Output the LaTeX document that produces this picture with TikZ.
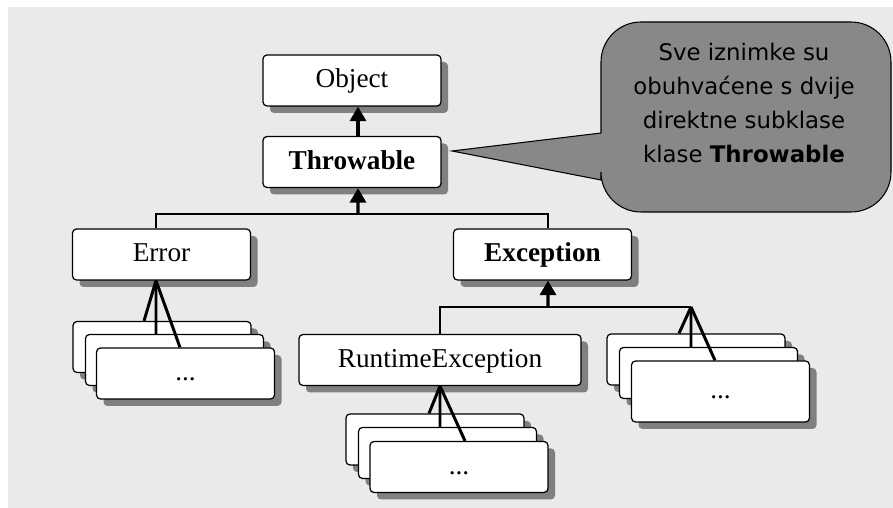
\documentclass[tikz,border=0pt]{standalone}
\usepackage{fontspec}
\setmainfont{Liberation Serif}
\newfontfamily\calloutfont{DejaVu Sans}
\usetikzlibrary{arrows.meta,shadows}
\definecolor{sfondo}{HTML}{EAEAEA}
\definecolor{ombra}{HTML}{808080}
\definecolor{fumetto}{HTML}{888888}

\begin{document}
\begin{tikzpicture}[font=\fontsize{15.5}{18}\selectfont]

        % Stili per classi e collegamenti
        \tikzset{
            classe/.style={draw, line width=0.7pt, rounded corners=0.08cm, fill=white,
                minimum width=3.56cm, minimum height=1.02cm, text height=0.85em, text depth=0.05em,
                drop shadow={shadow xshift=0.14cm, shadow yshift=-0.14cm, fill=ombra, opacity=1}},
            linea/.style={line width=1.4pt},
            ventaglio/.style={line width=1.7pt},
            freccia/.style={line width=1.9pt, -{Triangle[length=0.29cm, width=0.32cm]}}
        }

        % Sfondo grigio chiaro
        \useasboundingbox (0,0) rectangle (17.86,10.16);
        \fill[sfondo] (0.16,0) rectangle (17.86,10.02);

        % Fumetto con la nota
        \draw[fill=fumetto, line width=0.6pt] (17.82,8) [rounded corners=0.8cm] -- (17.82,9.72) -- (12.02,9.72)
            [sharp corners] -- (12.02,7.50) -- (9.04,7.14) -- (12.02,6.56)
            [rounded corners=0.8cm] -- (12.02,5.92) -- (17.82,5.92) -- cycle;
        \node[font=\calloutfont\fontsize{13}{19.4}\selectfont, align=center] (nota) at (14.88,8.10)
            {Sve iznimke su\\obuhvaćene s dvije\\direktne subklase\\klase \textbf{Throwable}};

        % Classi principali
        \node[classe] (object) at (7.04,8.55) {Object};
        \node[classe] (throwable) at (7.04,6.92) {\textbf{Throwable}};
        \node[classe] (error) at (3.23,5.07) {Error};
        \node[classe] (exception) at (10.85,5.07) {\textbf{Exception}};
        \node[classe, minimum width=5.64cm] (runtime) at (8.80,2.96) {RuntimeException};

        % Sottoclassi di Error (pila)
        \node[classe] (errA) at (3.24,3.22) {};
        \node[classe] (errB) at (3.49,2.96) {};
        \node[classe] (errC) at (3.71,2.69) {...};

        % Sottoclassi di RuntimeException (pila)
        \node[classe] (rtA) at (8.70,1.37) {};
        \node[classe] (rtB) at (8.95,1.10) {};
        \node[classe] (rtC) at (9.18,0.82) {...};

        % Altre sottoclassi di Exception (pila)
        \node[classe] (exA) at (13.92,2.97) {};
        \node[classe] (exB) at (14.17,2.70) {};
        \node[classe, minimum height=1.22cm] (exC) at (14.41,2.33) {...};

        % Punti di snodo delle linee
        \coordinate (snodoA) at (7.16,5.88);
        \coordinate (snodoB) at (10.96,4.02);
        \coordinate (apiceB) at (13.82,4.02);

        % Ereditarieta con frecce
        \draw[freccia] ([xshift=0.12cm]throwable.north) -- ([xshift=0.12cm]object.south);
        \draw[linea] ([xshift=-0.11cm]error.north) |- (snodoA) -| ([xshift=0.11cm]exception.north);
        \draw[freccia] (snodoA) -- ([xshift=0.12cm]throwable.south);
        \draw[linea] (runtime.north) |- (apiceB);
        \draw[freccia] (snodoB) -- ([xshift=0.11cm]exception.south);

        % Ventagli verso le pile
        \draw[ventaglio] ([xshift=-0.11cm]error.south) -- ([xshift=-0.36cm]errA.north);
        \draw[ventaglio] ([xshift=-0.11cm]error.south) -- ([xshift=-0.37cm]errB.north);
        \draw[ventaglio] ([xshift=-0.11cm]error.south) -- ([xshift=-0.11cm]errC.north);
        \draw[ventaglio] (runtime.south) -- ([xshift=-0.12cm]rtA.north);
        \draw[ventaglio] (runtime.south) -- ([xshift=-0.15cm]rtB.north);
        \draw[ventaglio] (runtime.south) -- ([xshift=0.12cm]rtC.north);
        \draw[ventaglio] (apiceB) -- ([xshift=-0.34cm]exA.north);
        \draw[ventaglio] (apiceB) -- ([xshift=-0.35cm]exB.north);
        \draw[ventaglio] (apiceB) -- ([xshift=-0.11cm]exC.north);

    \end{tikzpicture}
\end{document}
